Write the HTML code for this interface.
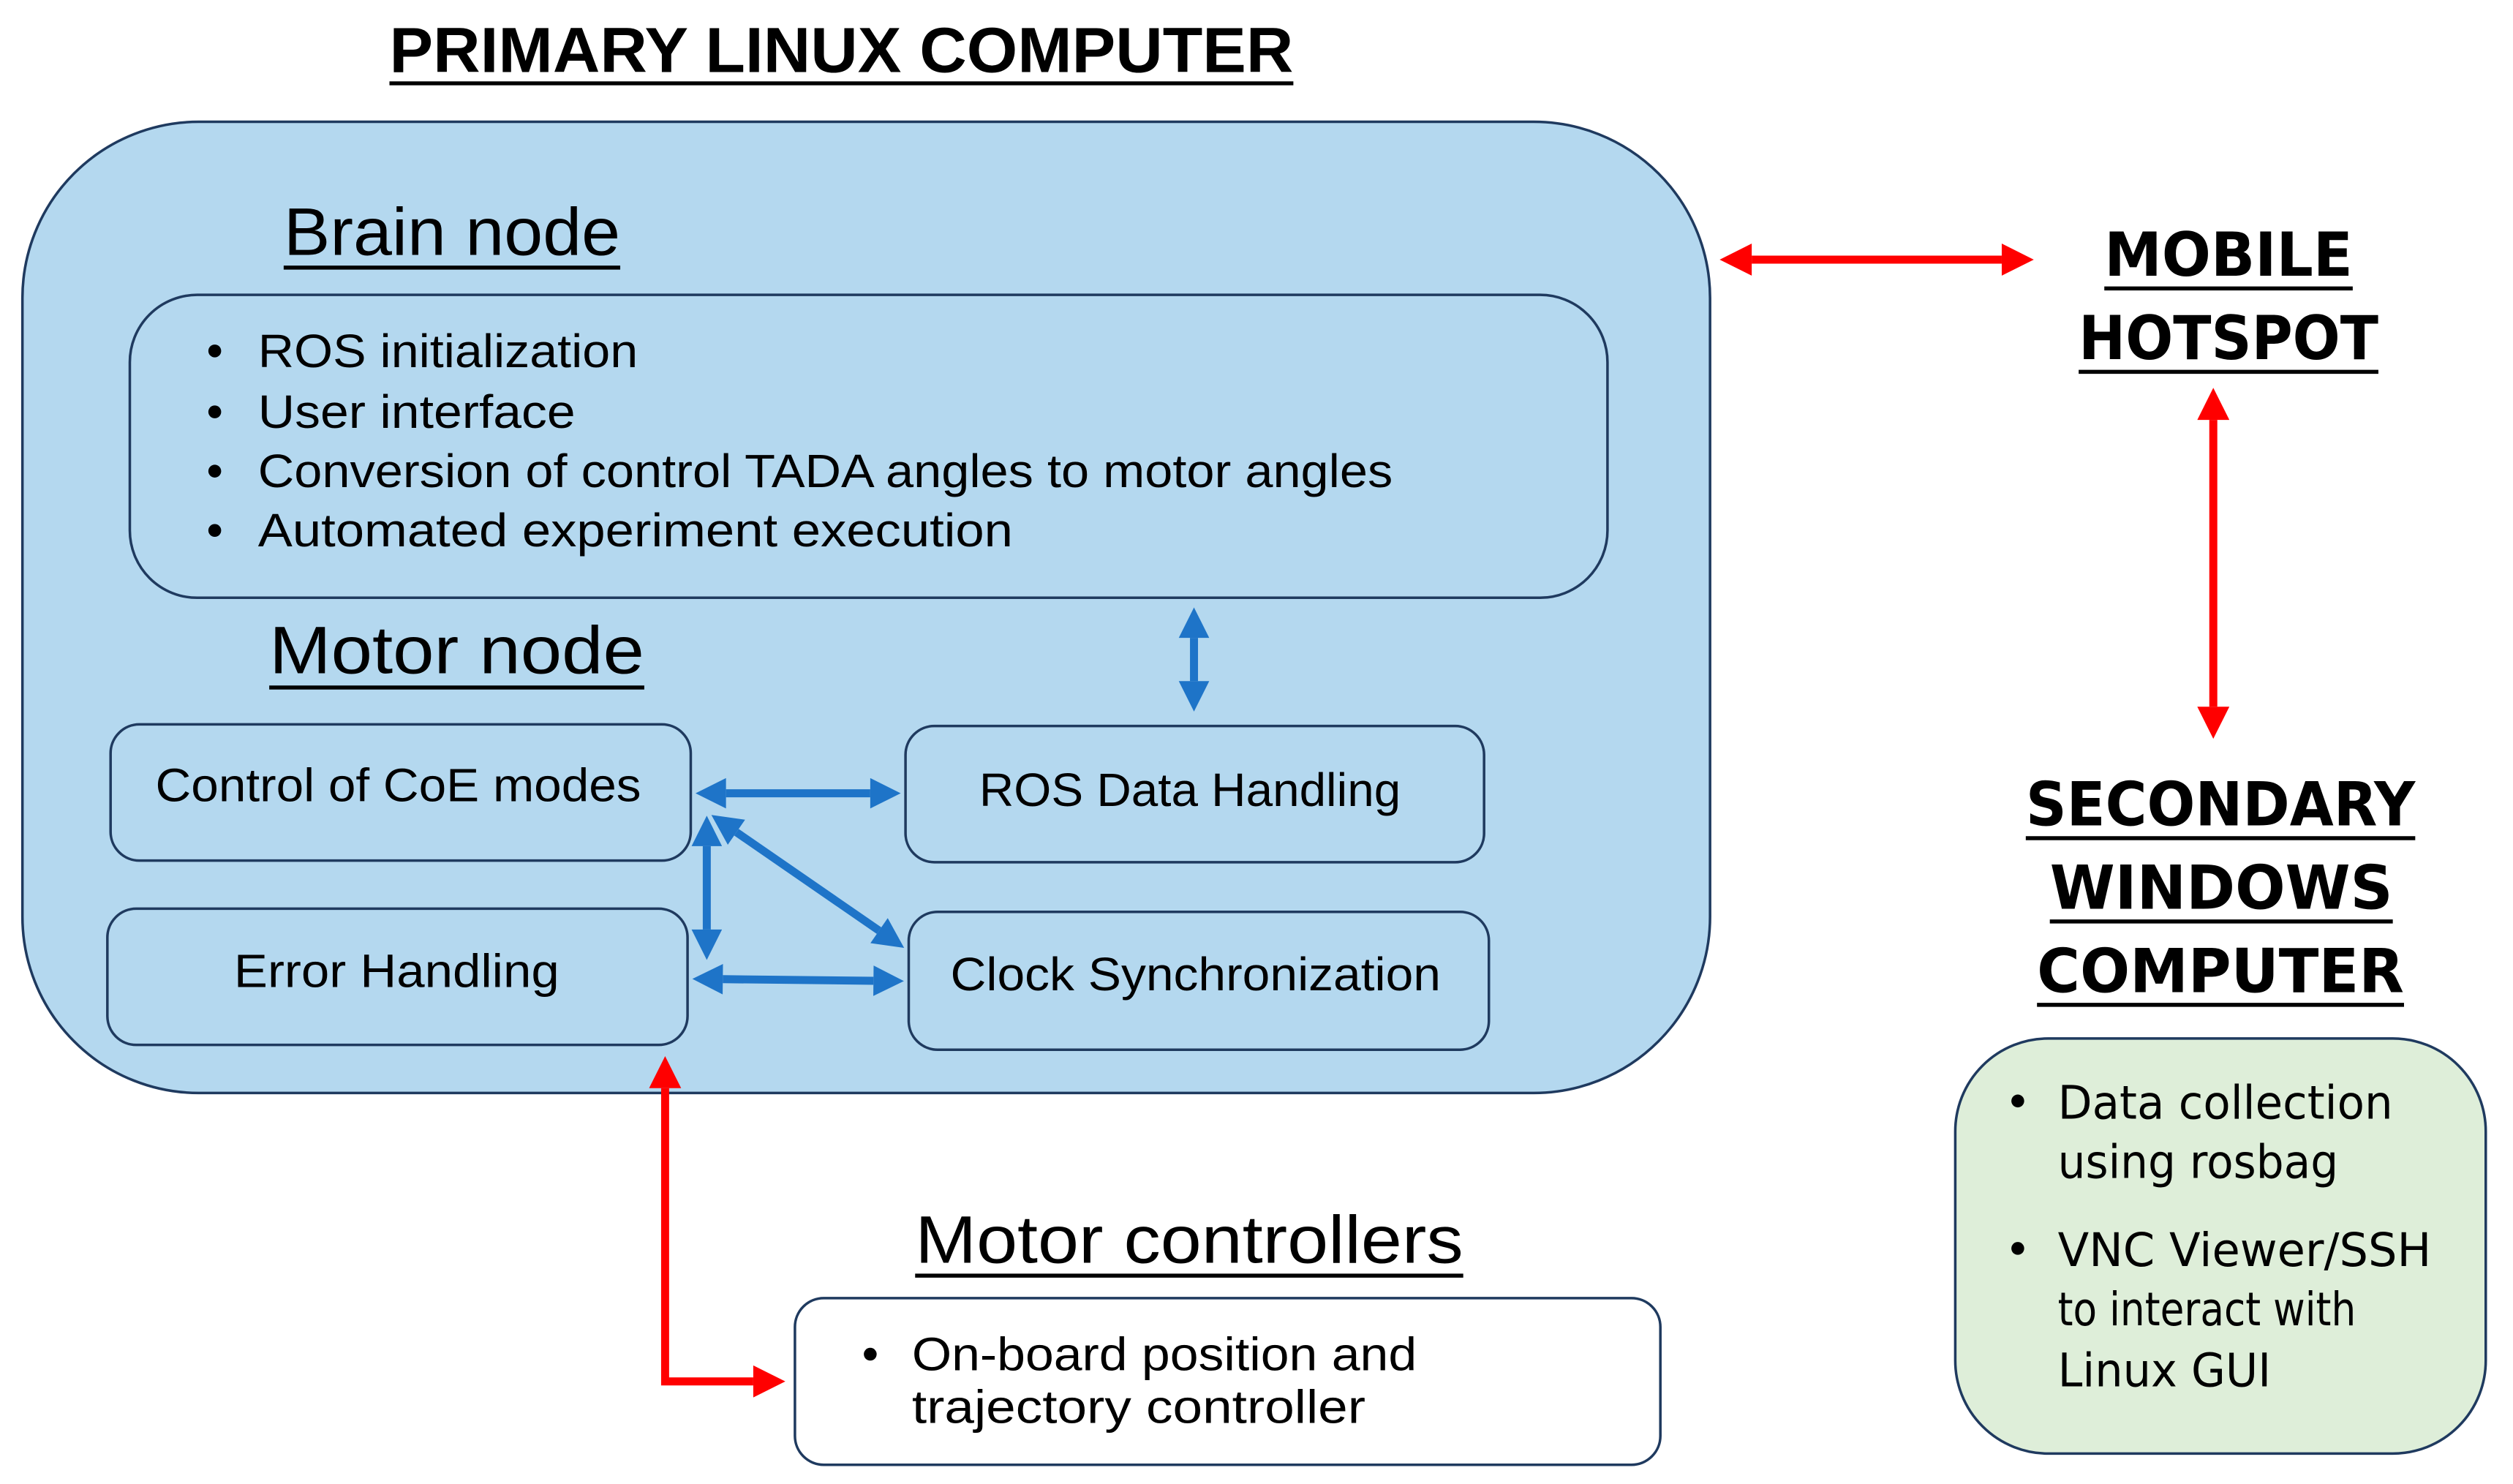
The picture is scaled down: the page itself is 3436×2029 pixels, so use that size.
<!DOCTYPE html>
<html><head><meta charset="utf-8"><style>
html,body{margin:0;padding:0;background:#fff;}
svg{display:block;}
text{font-family:"Liberation Sans",sans-serif;fill:#000;}
.v{font-family:"DejaVu Sans","Liberation Sans",sans-serif;}
</style></head><body>
<svg width="3436" height="2029" viewBox="0 0 1568 926" preserveAspectRatio="none" xmlns="http://www.w3.org/2000/svg">
<defs>
<marker id="bh" viewBox="0 0 10 10" refX="0" refY="5" markerWidth="4" markerHeight="3.8" orient="auto-start-reverse" markerUnits="strokeWidth"><path d="M0,0 L10,5 L0,10 z" fill="#1e74c8"/></marker>
<marker id="rh" viewBox="0 0 10 10" refX="0" refY="5" markerWidth="4.4" markerHeight="4" orient="auto-start-reverse" markerUnits="strokeWidth"><path d="M0,0 L10,5 L0,10 z" fill="#ff0000"/></marker>
</defs>

<text x="243" y="45" font-size="40" font-weight="bold" textLength="564" lengthAdjust="spacingAndGlyphs">PRIMARY LINUX COMPUTER</text>
<line x1="243" y1="52" x2="807" y2="52" stroke="#000" stroke-width="2.5"/>

<rect x="14" y="76" width="1053" height="606" rx="110" ry="110" fill="#b4d8ef" stroke="#1f3a5f" stroke-width="1.6"/>

<text x="177" y="159" font-size="42" textLength="210" lengthAdjust="spacingAndGlyphs">Brain node</text>
<line x1="177" y1="167" x2="387" y2="167" stroke="#000" stroke-width="2.5"/>

<rect x="81" y="184" width="922" height="189" rx="42" fill="#b4d8ef" stroke="#1f3a5f" stroke-width="1.6"/>
<g font-size="29">
<circle cx="134" cy="219" r="4"/><text x="161" y="229" textLength="237" lengthAdjust="spacingAndGlyphs">ROS initialization</text>
<circle cx="134" cy="257" r="4"/><text x="161" y="267" textLength="198" lengthAdjust="spacingAndGlyphs">User interface</text>
<circle cx="134" cy="294" r="4"/><text x="161" y="304" textLength="708" lengthAdjust="spacingAndGlyphs">Conversion of control TADA angles to motor angles</text>
<circle cx="134" cy="331" r="4"/><text x="161" y="341" textLength="471" lengthAdjust="spacingAndGlyphs">Automated experiment execution</text>
</g>

<text x="168" y="420" font-size="42" textLength="234" lengthAdjust="spacingAndGlyphs">Motor node</text>
<line x1="168" y1="429" x2="402" y2="429" stroke="#000" stroke-width="2.5"/>

<g fill="#b4d8ef" stroke="#1f3a5f" stroke-width="1.6">
<rect x="69" y="452" width="362" height="85" rx="18"/>
<rect x="565" y="453" width="361" height="85" rx="18"/>
<rect x="67" y="567" width="362" height="85" rx="18"/>
<rect x="567" y="569" width="362" height="86" rx="18"/>
</g>
<g font-size="29">
<text x="97" y="500" textLength="303" lengthAdjust="spacingAndGlyphs">Control of CoE modes</text>
<text x="611" y="503" textLength="263" lengthAdjust="spacingAndGlyphs">ROS Data Handling</text>
<text x="146" y="616" textLength="203" lengthAdjust="spacingAndGlyphs">Error Handling</text>
<text x="593" y="618" textLength="306" lengthAdjust="spacingAndGlyphs">Clock Synchronization</text>
</g>

<g stroke="#1e74c8" stroke-width="5" fill="none">
<line x1="745" y1="398" x2="745" y2="425" marker-start="url(#bh)" marker-end="url(#bh)"/>
<line x1="453" y1="495" x2="543" y2="495" marker-start="url(#bh)" marker-end="url(#bh)"/>
<line x1="451" y1="611" x2="545" y2="612" marker-start="url(#bh)" marker-end="url(#bh)"/>
<line x1="441" y1="528" x2="441" y2="580" marker-start="url(#bh)" marker-end="url(#bh)"/>
<line x1="459.5" y1="519.3" x2="548.5" y2="580.7" marker-start="url(#bh)" marker-end="url(#bh)"/>
</g>

<g stroke="#ff0000" stroke-width="5" fill="none">
<line x1="1093" y1="162" x2="1249" y2="162" marker-start="url(#rh)" marker-end="url(#rh)"/>
<line x1="1381" y1="262" x2="1381" y2="441" marker-start="url(#rh)" marker-end="url(#rh)"/>
<polyline points="415,679 415,862 470,862" marker-start="url(#rh)" marker-end="url(#rh)"/>
</g>

<g font-size="38" font-weight="bold">
<text class="v" x="1313" y="172" textLength="155" lengthAdjust="spacingAndGlyphs">MOBILE</text>
<text class="v" x="1297" y="224" textLength="187" lengthAdjust="spacingAndGlyphs">HOTSPOT</text>
<text class="v" x="1264" y="515" textLength="243" lengthAdjust="spacingAndGlyphs">SECONDARY</text>
<text class="v" x="1279" y="567" textLength="214" lengthAdjust="spacingAndGlyphs">WINDOWS</text>
<text class="v" x="1271" y="619" textLength="229" lengthAdjust="spacingAndGlyphs">COMPUTER</text>
</g>
<g stroke="#000" stroke-width="2.5">
<line x1="1313" y1="180" x2="1468" y2="180"/>
<line x1="1297" y1="232" x2="1484" y2="232"/>
<line x1="1264" y1="523" x2="1507" y2="523"/>
<line x1="1279" y1="575" x2="1493" y2="575"/>
<line x1="1271" y1="627" x2="1500" y2="627"/>
</g>

<rect x="1220" y="648" width="331" height="259" rx="58" fill="#deeed9" stroke="#1f3a5f" stroke-width="1.6"/>
<g font-size="29">
<circle cx="1259" cy="687" r="4"/>
<text class="v" x="1284" y="698" textLength="209" lengthAdjust="spacingAndGlyphs">Data collection</text>
<text class="v" x="1284" y="735" textLength="175" lengthAdjust="spacingAndGlyphs">using rosbag</text>
<circle cx="1259" cy="779" r="4"/>
<text class="v" x="1284" y="790" textLength="233" lengthAdjust="spacingAndGlyphs">VNC Viewer/SSH</text>
<text class="v" x="1284" y="827" textLength="186" lengthAdjust="spacingAndGlyphs">to interact with</text>
<text class="v" x="1284" y="865" textLength="133" lengthAdjust="spacingAndGlyphs">Linux GUI</text>
</g>

<text x="571" y="788" font-size="42" textLength="342" lengthAdjust="spacingAndGlyphs">Motor controllers</text>
<line x1="571" y1="796" x2="913" y2="796" stroke="#000" stroke-width="2.5"/>
<rect x="496" y="810" width="540" height="104" rx="18" fill="#fff" stroke="#1f3a5f" stroke-width="1.6"/>
<g font-size="29">
<circle cx="543" cy="845" r="4"/>
<text x="569" y="855" textLength="315" lengthAdjust="spacingAndGlyphs">On-board position and</text>
<text x="569" y="888" textLength="283" lengthAdjust="spacingAndGlyphs">trajectory controller</text>
</g>
</svg>
</body></html>
